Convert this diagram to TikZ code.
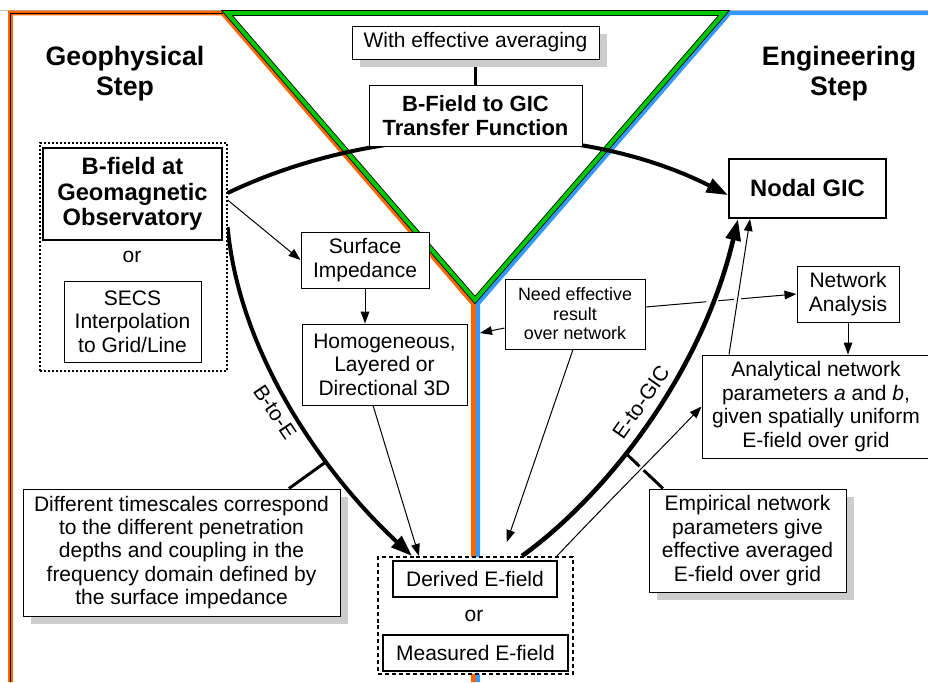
\documentclass[tikz,border=0pt]{standalone}
\usepackage{fontspec}
\setmainfont{Liberation Sans}
\usetikzlibrary{arrows.meta,shadows}
\definecolor{orng}{RGB}{255,102,0}
\definecolor{grn}{RGB}{0,200,0}
\definecolor{blu}{RGB}{51,153,255}
\newcommand\myreg{\fontsize{15.75}{17.6}\selectfont}
\newcommand\mysmall{\fontsize{13.4}{14.6}\selectfont}
\newcommand\mybig{\fontsize{17.8}{19.2}\selectfont\bfseries}
\newcommand\myhead{\fontsize{20}{22.5}\selectfont\bfseries}
\newcommand\mytf{\fontsize{16.5}{18}\selectfont\bfseries}
\pgfdeclarelayer{frame}
\pgfdeclarelayer{conn}
\pgfsetlayers{frame,conn,main}
\begin{document}
\begin{tikzpicture}[x=0.75pt,y=-0.75pt,
 wh/.style 2 args={minimum width=#1*0.75pt,minimum height=#2*0.75pt},
 box/.style={draw,fill=white,line width=0.75pt,align=center,inner sep=0pt,font=\myreg},
 bbox/.style={box,line width=1.6pt},
 shd/.style={drop shadow={shadow xshift=6pt,shadow yshift=-6pt,fill=black!20,opacity=1}},
 plain/.style={align=center,inner sep=0pt},
 thinarr/.style={line width=0.75pt,-{Triangle[length=9pt,width=6.5pt]}},
 thickarr/.style={line width=3pt,-{Triangle[length=16pt,width=11pt]}},
]
\useasboundingbox (0,0) rectangle (928,682);
\begin{pgfonlayer}{frame}
\draw[black!25,line width=0.75pt] (0,10)--(928,10);
\draw[orng,line width=3.4pt,line join=miter] (10.5,682)--(10.5,13)--(222.5,13)--(473.5,304)--(473.5,682);
\draw[black,line width=0.5pt] (10.5,682)--(10.5,13)--(222.5,13);
\draw[blu,line width=3.2pt,line join=miter] (930,13)--(729.5,13)--(478,303.5)--(478,682);
\draw[black,line width=4.2pt,line join=miter] (227,13)--(724,13)--(475,300)--cycle;
\draw[grn,line width=3pt,line join=miter] (227,13)--(724,13)--(475,300)--cycle;
\end{pgfonlayer}

\node[plain,font=\myhead] (geo) at (125,74) {Geophysical\\Step};
\node[plain,font=\myhead] (eng) at (839,74) {Engineering\\Step};

\node[draw,fill=white,line width=0.9pt,dash pattern=on 1.5pt off 1.5pt,wh={187}{228}] (grpB) at (133.5,257) {};
\node[bbox,font=\mybig,wh={179}{92}] (bfield) at (132.5,194) {B-field at\\Geomagnetic\\Observatory};
\node[plain,font=\myreg] (or1) at (132,257) {or};
\node[box,wh={137}{81}] (secs) at (132.5,321.5) {SECS\\Interpolation\\to Grid/Line};

\node[box,wh={128}{56}] (surf) at (365,260) {Surface\\Impedance};
\node[box,wh={165}{81}] (homog) at (384.5,364.5) {Homogeneous,\\Layered or\\Directional 3D};
\node[box,shd,wh={317}{127}] (diff) at (181.5,552.5) {Different timescales correspond\\to the different penetration\\depths and coupling in the\\frequency domain defined by\\the surface impedance};

\node[draw,fill=white,line width=1.6pt,dash pattern=on 3pt off 2.2pt,wh={195}{117}] (grpE) at (475.5,615.5) {};
\node[bbox,wh={164}{36}] (derived) at (475,579) {Derived E-field};
\node[plain,font=\myreg] (or2) at (474,616) {or};
\node[bbox,wh={185}{36}] (measured) at (475.5,653) {Measured E-field};

\node[bbox,font=\mybig,wh={157}{59}] (nodal) at (807.5,188.5) {Nodal GIC};
\node[box,font=\mysmall,wh={140}{70}] (need) at (575,314) {Need effective\\result\\over network};
\node[box,wh={102}{56}] (netan) at (848,294) {Network\\Analysis};
\node[box,wh={228}{103}] (analyt) at (816,406.5) {Analytical network\\parameters \textit{a} and \textit{b},\\given spatially uniform\\E-field over grid};
\node[box,shd,wh={197}{103}] (emp) at (747.5,540.5) {Empirical network\\parameters give\\effective averaged\\E-field over grid};

\node[box,font=\mytf,wh={213}{61}] (tf) at (475.5,115.5) {B-Field to GIC\\Transfer Function};
\node[box,shd,wh={247}{33}] (avg) at (475.5,42.5) {With effective averaging};

\coordinate (bl) at (480,333);

\node[plain,font=\myreg,rotate=-56] (lbB) at (275,412) {B-to-E};
\node[plain,font=\myreg,rotate=55] (lbC) at (641,402) {E-to-GIC};

\begin{pgfonlayer}{conn}
\draw[thickarr] ([yshift=48pt]grpB.east) .. controls (380,120) and (580,120) .. ([yshift=-4.9pt]nodal.west);
\draw[line width=2.2pt] (avg.south) -- (tf.north);
\draw[thinarr] ([yshift=42.75pt]grpB.east) -- (surf.west);
\draw[thinarr] (surf.south) -- (surf.south |- homog.north);
\draw[thinarr] ([xshift=-8.6pt]homog.south) -- ([xshift=-42.4pt]grpE.north);
\draw[thickarr] ([yshift=22.5pt]grpB.east) .. controls (240,360) and (330,480) .. ([xshift=-47.6pt]grpE.north) coordinate[pos=0.65] (tb);
\draw[line width=2.2pt] (tb) -- ([xshift=80.6pt]diff.north);
\draw[thinarr] ([yshift=-10.5pt]need.west) -- (bl);
\draw[thinarr,shorten >=11pt] ([xshift=-1.5pt]need.south) -- ([xshift=19.9pt]grpE.north);
\draw[thinarr] ([yshift=5.25pt]need.east) -- (netan.west);
\draw[thinarr] (netan.south) -- (netan.south |- analyt.north);
\draw[thinarr,preaction={draw=white,line width=5pt,-}] ([xshift=-65.25pt]analyt.north) -- ([xshift=-43.1pt]nodal.south);
\draw[thickarr,line width=3.4pt,preaction={draw=white,line width=8pt,-}] ([xshift=34.9pt]grpE.north) .. controls (600,500) and (700,380) .. ([xshift=-52.1pt]nodal.south) coordinate[pos=0.42] (tc);
\draw[line width=2.2pt] (tc) -- ([xshift=-63.4pt]emp.north);
\draw[thinarr,preaction={draw=white,line width=4pt,-}] ([xshift=61.1pt]grpE.north) .. controls (610,500) and (660,450) .. (analyt.west);
\end{pgfonlayer}
\end{tikzpicture}
\end{document}
